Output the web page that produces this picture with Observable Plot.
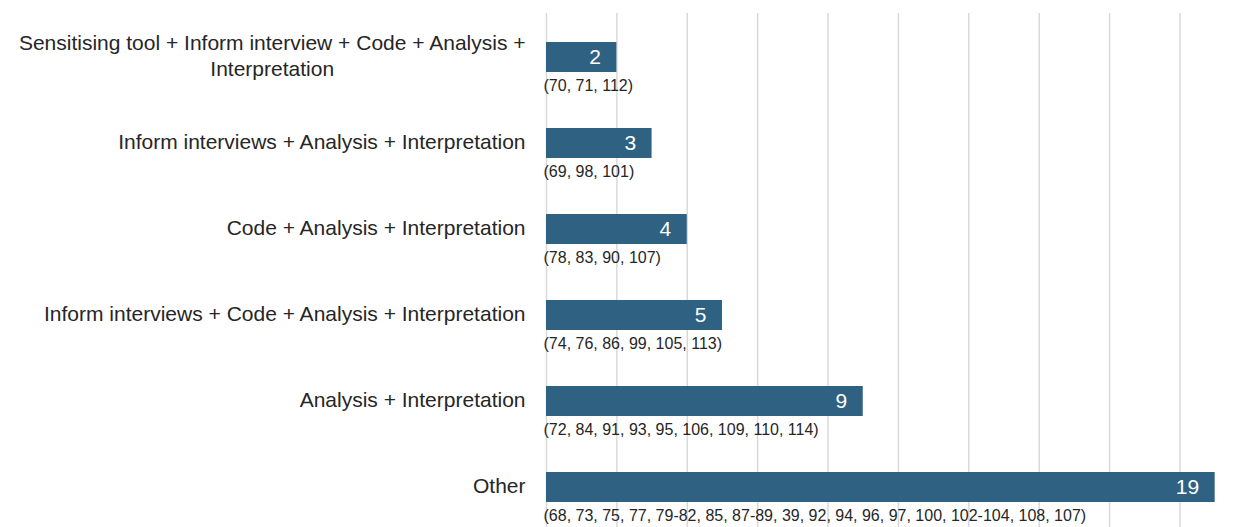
<!DOCTYPE html>
<html>
<head>
<meta charset="utf-8">
<script src="https://cdn.jsdelivr.net/npm/d3@7"></script>
<script src="https://cdn.jsdelivr.net/npm/@observablehq/plot@0.6"></script>
<style>
  html, body { margin: 0; padding: 0; background: #ffffff; }
  #chart svg { display: block; font-family: "Liberation Sans", Arial, sans-serif; }
</style>
</head>
<body>
<div id="chart"></div>
<script>
const categories = [
  "Sensitising tool + Inform interview + Code + Analysis +\nInterpretation",
  "Inform interviews + Analysis + Interpretation",
  "Code + Analysis + Interpretation",
  "Inform interviews + Code + Analysis + Interpretation",
  "Analysis + Interpretation",
  "Other"
];
const values = [2, 3, 4, 5, 9, 19];
const studyIds = [
  "(70, 71, 112)",
  "(69, 98, 101)",
  "(78, 83, 90, 107)",
  "(74, 76, 86, 99, 105, 113)",
  "(72, 84, 91, 93, 95, 106, 109, 110, 114)",
  "(68, 73, 75, 77, 79-82, 85, 87-89, 39, 92, 94, 96, 97, 100, 102-104, 108, 107)"
];
const gridTicks = [0, 2, 4, 6, 8, 10, 12, 14, 16, 18];

const data = categories.map((c, i) => ({category: c, value: values[i], ids: studyIds[i]}));

const barColor = "#2e6182";

const chart = Plot.plot({
  width: 1240,
  height: 527,
  marginLeft: 546,
  marginRight: 0,
  marginTop: 13,
  marginBottom: 0,
  style: {fontFamily: "'Liberation Sans', Arial, sans-serif", background: "#ffffff"},
  x: {domain: [0, 19.72], axis: null},
  y: {type: "band", domain: categories, range: [-15.6, 560.1], padding: 0.648, axis: null},
  marks: [
    Plot.ruleX(gridTicks, {x: d => d, stroke: "#d9d9d9", strokeWidth: 1.5}),
    Plot.barX(data, {x: "value", y: "category", fill: barColor}),
    Plot.text(data, {x: "value", y: "category", text: d => String(d.value), textAnchor: "end", dx: -16, fill: "#ffffff", fontSize: 21}),
    Plot.text(data, {x: 0, y: "category", text: "ids", textAnchor: "start", dx: -3, dy: 28, fill: "#262626", fontSize: 16}),
    Plot.text(data, {x: 0, y: "category", text: "category", textAnchor: "end", dx: -21, dy: -3, fill: "#262626", fontSize: 21, lineHeight: 1.24})
  ]
});

document.getElementById("chart").appendChild(chart);

// Center the lines of multi-line category labels within their right-aligned block
d3.select(chart).selectAll("text").each(function() {
  const tspans = this.querySelectorAll("tspan");
  if (tspans.length > 1) {
    let w = 0;
    tspans.forEach(t => { w = Math.max(w, t.getComputedTextLength()); });
    this.setAttribute("text-anchor", "middle");
    tspans.forEach(t => t.setAttribute("x", -w / 2));
  }
});
</script>
</body>
</html>
